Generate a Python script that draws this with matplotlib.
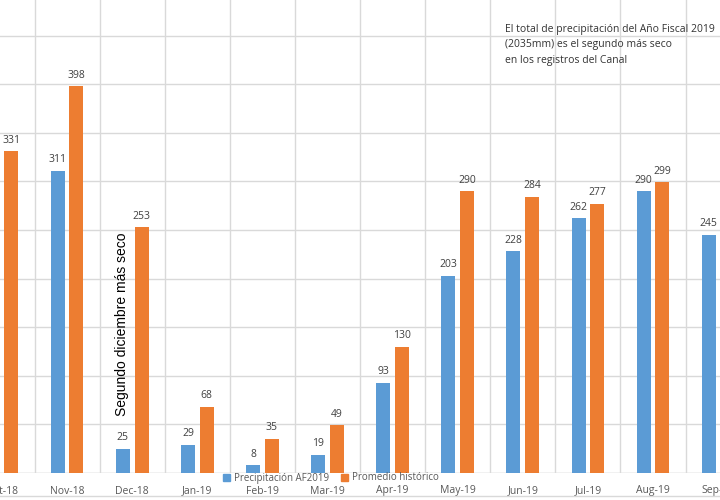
import matplotlib
matplotlib.use("Agg")
import matplotlib.pyplot as plt
import numpy as np
from matplotlib.lines import Line2D
from matplotlib.patches import Patch

plt.rcParams['font.family'] = ['Open Sans', 'DejaVu Sans']

months = ["Oct-18", "Nov-18", "Dec-18", "Jan-19", "Feb-19", "Mar-19",
          "Apr-19", "May-19", "Jun-19", "Jul-19", "Aug-19", "Sep-19"]
precip_af2019 = [320, 311, 25, 29, 8, 19, 93, 203, 228, 262, 290, 245]
promedio_hist = [331, 398, 253, 68, 35, 49, 130, 290, 284, 277, 299, 291]

blue = "#5B9BD5"
orange = "#ED7D31"

fig = plt.figure(figsize=(7.2, 5.0), dpi=100)
W, H = 720, 500
base_px = 473
ax = fig.add_axes([0, (H - base_px) / H, 1, base_px / H])

x = np.arange(len(months))
bw = 0.215
off = 0.143
b1 = ax.bar(x - off, precip_af2019, bw, color=blue, zorder=3, label="Precipitación AF2019")
b2 = ax.bar(x + off, promedio_hist, bw, color=orange, zorder=3, label="Promedio histórico")

for rects, vals in ((b1, precip_af2019), (b2, promedio_hist)):
    for r, v in zip(rects, vals):
        ax.annotate(str(v), (r.get_x() + r.get_width() / 2, v), xytext=(0, 4),
                    textcoords="offset points", ha="center", va="bottom",
                    fontsize=7.5, color="#404040")

spacing = 65.1
ax.set_xlim(-2 / spacing, (W - 2) / spacing)
ax.set_ylim(0, base_px / 0.972)

ax.set_yticks(np.arange(0, 500, 50))
ax.set_xticks(x)
ax.set_xticklabels(months, fontsize=7.5, color="#595959")
ax.set_xticks(x[:-1] + 0.5, minor=True)
ax.tick_params(axis="x", which="both", length=0, pad=9)
ax.tick_params(axis="y", left=False, labelleft=False)
ax.grid(axis="y", color="#d9d9d9", linewidth=1, zorder=0)
ax.grid(axis="x", which="minor", color="#d9d9d9", linewidth=1, zorder=0)
for s in ax.spines.values():
    s.set_visible(False)
ax.axhline(0, color="#d9d9d9", linewidth=1, zorder=1)

ax.text((122 - 2) / spacing, (base_px - 324) / 0.972, "Segundo diciembre más seco",
        rotation=90, ha="center", va="center", fontsize=10, color="black", zorder=4,
        family=["Liberation Sans", "DejaVu Sans"])

fig.text(505 / W, 1 - 24 / H,
         "El total de precipitación del Año Fiscal 2019\n(2035mm) es el segundo más seco\nen los registros del Canal",
         ha="left", va="top", fontsize=7.5, color="#333333", linespacing=1.55)

handles = [Patch(color=blue), Patch(color=orange)]
fig.legend(handles, ["Precipitación AF2019", "Promedio histórico"],
           loc="center", bbox_to_anchor=(331 / W, 1 - 478 / H), ncol=2, frameon=False,
           fontsize=7, labelcolor="#595959", handlelength=0.7, handleheight=0.7,
           handletextpad=0.4, columnspacing=1.2)

fig.add_artist(Line2D([0, 1], [1 - 496 / H, 1 - 496 / H], color="#d9d9d9", linewidth=1,
                      transform=fig.transFigure))

fig.savefig("out.png", dpi=100)
